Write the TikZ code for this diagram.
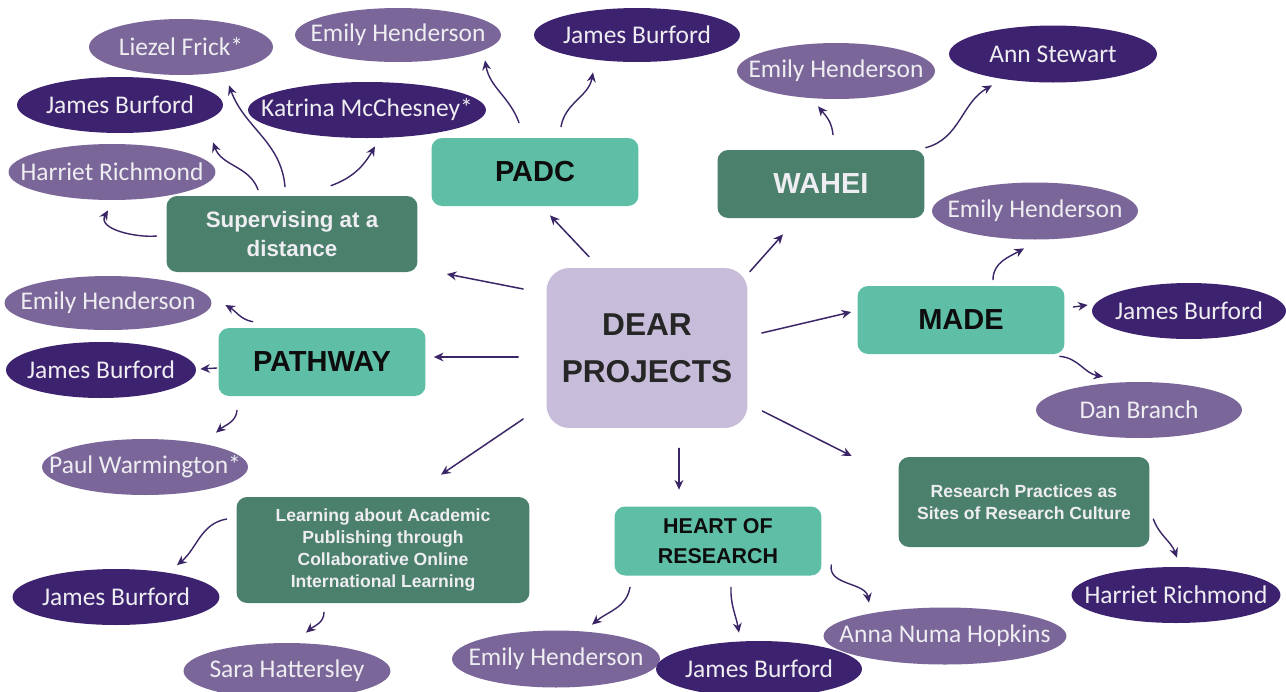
\documentclass[tikz,border=0pt]{standalone}
\usepackage{fontspec}
\setmainfont{Liberation Sans}
\newfontfamily\namefont{Carlito}
\usetikzlibrary{arrows.meta, shapes.geometric}
\definecolor{hubc}{HTML}{C7BDDA}
\definecolor{tealc}{HTML}{5EBFA6}
\definecolor{greenc}{HTML}{4B806C}
\definecolor{lilac}{HTML}{7A6699}
\definecolor{plum}{HTML}{3D2270}
\definecolor{arrowc}{HTML}{3A2566}
\definecolor{paper}{HTML}{EEEDF1}
\tikzset{>/.tip={Stealth[length=5.5pt,width=5pt]}}
\tikzset{
  hub/.style={rectangle, rounded corners=13pt, fill=hubc, text=black!85, align=center,
    font=\bfseries\fontsize{18}{26.5}\selectfont, minimum width=4.02cm, minimum height=3.2cm},
  proj/.style={rectangle, rounded corners=6pt, fill=tealc, text=black!95, align=center,
    font=\bfseries\fontsize{16.5}{19}\selectfont, minimum width=4.14cm, minimum height=1.36cm},
  projdark/.style={proj, fill=greenc, text=paper},
  who/.style={ellipse, fill=lilac, text=paper, inner sep=0pt, minimum width=4.12cm, minimum height=1.12cm,
    font=\namefont\fontsize{14.5}{16}\selectfont,
    execute at begin node={\hbox to 0pt\bgroup\hss}, execute at end node={\hss\egroup}},
  whodark/.style={who, fill=plum},
  link/.style={->, draw=arrowc, line width=0.85pt},
  twig/.style={link, line width=0.8pt}
}

\begin{document}
\begin{tikzpicture}[line cap=round,line join=round,x=0.02cm,y=0.02cm]
\useasboundingbox (0,0) rectangle (1286,-691);

% project boxes
\draw[]
 (647,-348) node[hub] (dear) {DEAR\\PROJECTS}
 (535,-172) node[proj] (padc) {PADC}
 (821,-184) node[projdark] (wahei) {WAHEI}
 (292,-234) node[projdark, font=\bfseries\fontsize{12.7}{16}\selectfont, minimum width=5.02cm, minimum height=1.52cm] (sup) {Supervising at a\\distance}
 (322,-362) node[proj] (pathway) {PATHWAY}
 (961,-320) node[proj] (made) {MADE}
 (1024,-502) node[projdark, font=\bfseries\fontsize{10}{12.7}\selectfont, minimum width=5.02cm, minimum height=1.8cm] (rp) {Research Practices as\\Sites of Research Culture}
 (718,-541) node[proj, font=\bfseries\fontsize{12.2}{17}\selectfont, minimum height=1.38cm] (heart) {HEART OF\\RESEARCH}
 (383,-550) node[projdark, font=\bfseries\fontsize{10}{12.7}\selectfont, minimum width=5.86cm, minimum height=2.12cm] (learn) {Learning about Academic\\Publishing through\\Collaborative Online\\International Learning};

% people
\draw[]
 (181,-47) node[who, minimum width=3.68cm] (liezel) {Liezel Frick*}
 (398,-35) node[who, minimum height=1.08cm] (emily1) {Emily Henderson}
 (637,-35) node[whodark, minimum height=1.08cm] (jbtop) {James Burford}
 (120,-105) node[whodark] (jb1) {James Burford}
 (367,-110) node[whodark, minimum width=4.76cm] (katrina) {Katrina McChesney*}
 (112,-172) node[who, minimum width=4.14cm] (harriet1) {Harriet Richmond}
 (836,-71) node[who, minimum width=3.96cm] (emily2) {Emily Henderson}
 (1053,-54) node[whodark, minimum width=4.16cm, minimum height=1.14cm] (ann) {Ann Stewart}
 (1035,-211) node[who, minimum height=1.14cm] (emily3) {Emily Henderson}
 (1189,-311) node[whodark, minimum width=3.88cm] (jb3) {James Burford}
 (1139,-410) node[who] (dan) {Dan Branch}
 (1176,-595) node[whodark, minimum width=4.18cm] (harriet2) {Harriet Richmond}
 (556,-659) node[who, minimum width=4.16cm, minimum height=1.14cm] (emily4) {Emily Henderson}
 (759,-669) node[whodark] (jb4) {James Burford}
 (945,-636) node[who, minimum width=4.86cm, minimum height=1.14cm] (anna) {Anna Numa Hopkins}
 (287,-671) node[who, minimum width=4.14cm] (sara) {Sara Hattersley}
 (116,-597) node[whodark, minimum width=4.14cm] (jb5) {James Burford}
 (145,-467) node[who] (paul) {Paul Warmington*}
 (101,-370) node[whodark, minimum width=3.8cm] (jb6) {James Burford}
 (108,-303) node[who, minimum width=4.14cm, minimum height=1.08cm] (emily5) {Emily Henderson};

% from the hub
\draw[]
 ([shift={(-58,11)}]dear.north) edge[link] ([shift={(15,-9)}]padc.south)
 ([shift={(2,-4)}]dear.north east) edge[link] ([shift={(-38,-16)}]wahei.south)
 ([shift={(-23,59)}]dear.west) edge[link] ([shift={(29,-40)}]sup.east)
 ([shift={(-28,-9)}]dear.west) edge[link] ([shift={(8,5)}]pathway.east)
 ([shift={(14,15)}]dear.east) edge[link] ([shift={(-6,8)}]made.west)
 ([shift={(-23,-71)}]dear.west) edge[link] ([shift={(58,22)}]learn.north)
 ([shift={(32,-20)}]dear.south) edge[link] ([shift={(-39,16.5)}]heart.north)
 ([shift={(14.5,-63)}]dear.east) edge[link] ([shift={(-46.5,46)}]rp.west);

% from the projects
\draw[]
 ([shift={(-9.5,-2)}]sup.west) edge[twig, out=185, in=-120] ([shift={(-4,-10)}]harriet1.south)
 ([shift={(-34,6)}]sup.north) edge[twig, out=110, in=-70] ([shift={(93,-9)}]jb1.south)
 ([shift={(-7,9)}]sup.north) edge[twig, out=95, in=-70] ([shift={(48,-10)}]liezel.south)
 ([shift={(39,10)}]sup.north) edge[twig, out=20, in=-120] ([shift={(8,-8)}]katrina.south)
 ([shift={(-16,15)}]padc.north) edge[twig, out=110, in=-80] ([shift={(87,2)}]emily1.south)
 ([shift={(26,11)}]padc.north) edge[twig, out=80, in=-100] ([shift={(-44,-10)}]jbtop.south)
 ([shift={(12,15)}]wahei.north) edge[twig, out=95, in=-50] ([shift={(-18,-7)}]emily2.south)
 ([shift={(1,2)}]wahei.north east) edge[twig, out=15, in=-150] ([shift={(-61,-2.5)}]ann.south)
 ([shift={(32,6)}]made.north) edge[twig, out=90, in=-150] ([shift={(-11,-8.5)}]emily3.south)
 ([shift={(8.5,13)}]made.east) edge[twig] ([shift={(-4,6)}]jb3.west)
 ([shift={(-5,-2)}]made.south east) edge[twig, out=-5, in=170] ([shift={(-36,5)}]dan.north)
 ([shift={(3.5,-17)}]rp.east) edge[twig, out=-70, in=110] ([shift={(1,9)}]harriet2.north)
 ([shift={(-88,-11.5)}]heart.south) edge[twig, out=-100, in=40] ([shift={(36,5.5)}]emily4.north)
 ([shift={(13,-11.5)}]heart.south) edge[twig, out=-92, in=100] ([shift={(-20,8)}]jb4.north)
 ([shift={(9.5,-24)}]heart.east) edge[twig, out=-100, in=100] ([shift={(-76,4.5)}]anna.north)
 ([shift={(-9.5,31)}]learn.west) edge[twig, out=190, in=40] ([shift={(61,3.5)}]jb5.north)
 ([shift={(-59,-9)}]learn.south) edge[twig, out=-90, in=40] ([shift={(19,10)}]sara.north)
 ([shift={(34.5,6)}]pathway.north west) edge[twig, out=170, in=-30] ([shift={(13.5,-2)}]emily5.east)
 ([shift={(-1.5,-6)}]pathway.west) edge[twig] ([shift={(4,1)}]jb6.east)
 ([shift={(-85,-14)}]pathway.south) edge[twig, out=-95, in=40] ([shift={(71,6)}]paul.north);

\end{tikzpicture}
\end{document}
